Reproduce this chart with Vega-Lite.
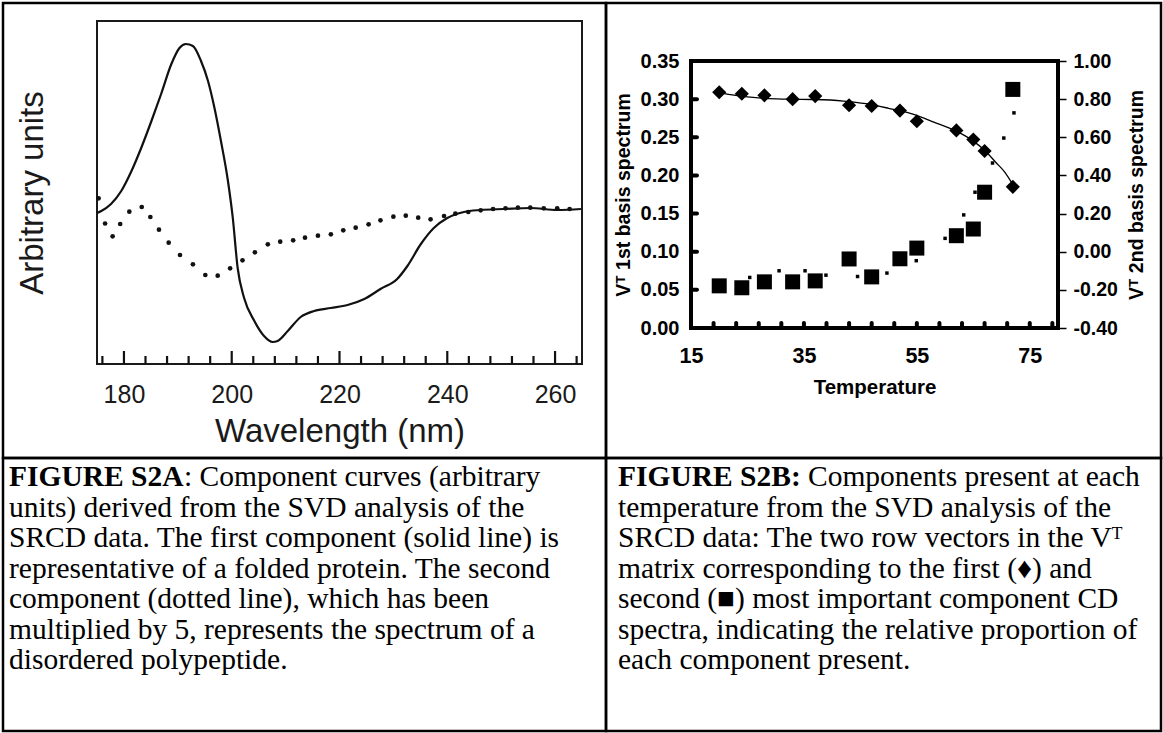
{
  "$schema": "https://vega.github.io/schema/vega-lite/v6.json",
  "padding": {"left": 1, "top": 1, "right": 1, "bottom": 1},
  "background": "white",
  "config": {"view": {"stroke": "black", "strokeWidth": 2.5}},
  "spacing": 0,
  "bounds": "flush",
  "columns": 2,
  "concat": [
        {
          "width": 603,
          "height": 455,
          "layer": [
            {
              "data": {"values": [{"k": 1}]},
              "mark": {"type": "rect", "fill": "transparent", "stroke": "#1a1a1a", "strokeWidth": 2},
              "encoding": {
                "x": {"datum": 175, "type": "quantitative", "scale": {"domain": [175, 265], "range": [94, 579], "nice": false, "zero": false}, "axis": null},
                "x2": {"datum": 265},
                "y": {"datum": -1.55, "type": "quantitative", "scale": {"domain": [-1.55, 1.88], "range": [361, 18], "nice": false, "zero": false}, "axis": null},
                "y2": {"datum": 1.88}
              }
            },
            {
              "data": {"values": [
                {"w":175.0,"v":-0.04},{"w":175.8,"v":-0.02},{"w":177.6,"v":0.05},{"w":179.5,"v":0.18},{"w":181.4,"v":0.38},{"w":183.2,"v":0.61},{"w":185.1,"v":0.88},{"w":186.9,"v":1.15},{"w":188.8,"v":1.45},{"w":190.3,"v":1.61},{"w":191.5,"v":1.65},{"w":192.8,"v":1.63},{"w":194.3,"v":1.48},{"w":195.6,"v":1.28},{"w":196.8,"v":1.01},{"w":198.0,"v":0.68},{"w":199.3,"v":0.28},{"w":200.2,"v":-0.09},{"w":201.1,"v":-0.59},{"w":202.3,"v":-0.89},{"w":204.2,"v":-1.12},{"w":206.0,"v":-1.27},{"w":207.6,"v":-1.33},{"w":208.5,"v":-1.32},{"w":210.4,"v":-1.22},{"w":212.8,"v":-1.08},{"w":215.3,"v":-1.02},{"w":218.4,"v":-0.99},{"w":221.5,"v":-0.96},{"w":224.6,"v":-0.90},{"w":227.6,"v":-0.80},{"w":230.7,"v":-0.70},{"w":232.6,"v":-0.57},{"w":235.1,"v":-0.35},{"w":237.5,"v":-0.19},{"w":240.0,"v":-0.09},{"w":243.1,"v":-0.03},{"w":246.2,"v":-0.01},{"w":250.5,"v":0.0},{"w":255.4,"v":0.01},{"w":260.4,"v":-0.01},{"w":264.8,"v":0.0}
              ]},
              "mark": {"type": "line", "color": "#111111", "strokeWidth": 2.2, "interpolate": "monotone"},
              "encoding": {
                "x": {"field": "w", "type": "quantitative", "scale": {"domain": [175, 265], "range": [94, 579], "nice": false, "zero": false}, "axis": null},
                "y": {"field": "v", "type": "quantitative", "scale": {"domain": [-1.55, 1.88], "range": [361, 18], "nice": false, "zero": false},
                  "axis": {"orient": "left", "offset": -94, "ticks": false, "labels": false, "domain": false, "grid": false, "title": "Arbitrary units", "titleFont": "Liberation Sans", "titleFontSize": 33, "titleFontWeight": "normal", "titleColor": "#1a1a1a", "titlePadding": 48}}
              }
            },
            {
              "data": {"values": [
                {"w":175.3,"v":0.107},{"w":176.5,"v":-0.145},{"w":177.9,"v":-0.273},{"w":179.3,"v":-0.15},{"w":181.0,"v":-0.027},{"w":183.3,"v":0.02},{"w":184.9,"v":-0.08},{"w":186.5,"v":-0.207},{"w":188.3,"v":-0.337},{"w":190.4,"v":-0.46},{"w":192.8,"v":-0.553},{"w":195.1,"v":-0.66},{"w":197.4,"v":-0.667},{"w":199.7,"v":-0.593},{"w":202.0,"v":-0.513},{"w":204.3,"v":-0.433},{"w":206.7,"v":-0.353},{"w":209.0,"v":-0.327},{"w":211.4,"v":-0.313},{"w":213.6,"v":-0.287},{"w":216.0,"v":-0.267},{"w":218.4,"v":-0.253},{"w":220.7,"v":-0.213},{"w":223.0,"v":-0.187},{"w":225.4,"v":-0.153},{"w":227.6,"v":-0.113},{"w":230.0,"v":-0.077},{"w":232.3,"v":-0.067},{"w":234.6,"v":-0.087},{"w":236.9,"v":-0.103},{"w":239.4,"v":-0.07},{"w":241.5,"v":-0.047},{"w":243.9,"v":-0.03},{"w":246.2,"v":-0.013},{"w":248.5,"v":0.0},{"w":250.8,"v":0.007},{"w":253.1,"v":0.013},{"w":255.4,"v":0.013},{"w":257.9,"v":0.007},{"w":260.4,"v":0.007},{"w":262.7,"v":0.0}
              ]},
              "mark": {"type": "circle", "color": "#111111", "opacity": 1, "size": 22},
              "encoding": {
                "x": {"field": "w", "type": "quantitative", "scale": {"domain": [175, 265], "range": [94, 579], "nice": false, "zero": false},
                  "axis": {"orient": "bottom", "offset": -94, "values": [180, 200, 220, 240, 260], "ticks": false, "tickSize": 0, "domain": false, "grid": false, "labelFont": "Liberation Sans", "labelFontSize": 25, "labelColor": "#1a1a1a", "labelPadding": 18, "labelFlush": false, "title": "Wavelength (nm)", "titleFont": "Liberation Sans", "titleFontSize": 33, "titleFontWeight": "normal", "titleColor": "#1a1a1a", "titlePadding": 8}},
                "y": {"field": "v", "type": "quantitative", "scale": {"domain": [-1.55, 1.88], "range": [361, 18], "nice": false, "zero": false}, "axis": null}
              }
            },
            {
              "data": {"values": [{"w":176},{"w":184},{"w":188},{"w":192},{"w":196},{"w":204},{"w":208},{"w":212},{"w":216},{"w":224},{"w":228},{"w":232},{"w":236},{"w":244},{"w":248},{"w":252},{"w":256},{"w":264}]},
              "mark": {"type": "tick", "orient": "vertical", "size": 8, "thickness": 2.2, "color": "#111111", "opacity": 1},
              "encoding": {
                "x": {"field": "w", "type": "quantitative", "scale": {"domain": [175, 265], "range": [94, 579], "nice": false, "zero": false}, "axis": null},
                "y": {"datum": -1.51, "type": "quantitative", "scale": {"domain": [-1.55, 1.88], "range": [361, 18], "nice": false, "zero": false}, "axis": null}
              }
            },
            {
              "data": {"values": [{"w":180},{"w":200},{"w":220},{"w":240},{"w":260}]},
              "mark": {"type": "tick", "orient": "vertical", "size": 13, "thickness": 2.2, "color": "#111111", "opacity": 1},
              "encoding": {
                "x": {"field": "w", "type": "quantitative", "scale": {"domain": [175, 265], "range": [94, 579], "nice": false, "zero": false}, "axis": null},
                "y": {"datum": -1.485, "type": "quantitative", "scale": {"domain": [-1.55, 1.88], "range": [361, 18], "nice": false, "zero": false}, "axis": null}
              }
            }
          ],
          "resolve": {"axis": {"x": "independent", "y": "independent"}}
        },
        {
          "width": 555,
          "height": 455,
          "layer": [
            {
              "data": {"values": [{"k": 1}]},
              "mark": {"type": "rect", "fill": "transparent", "stroke": "black", "strokeWidth": 4},
              "encoding": {
                "x": {"datum": 15, "type": "quantitative", "scale": {"domain": [15, 80], "range": [85, 452], "nice": false, "zero": false},
                  "axis": {"orient": "bottom", "offset": -130, "values": [15, 35, 55, 75], "ticks": false, "tickSize": 0, "domain": false, "grid": false, "labelFont": "Liberation Sans", "labelFontWeight": "bold", "labelFontSize": 21.5, "labelColor": "black", "labelPadding": 17, "labelFlush": false, "labelOverlap": false, "title": "Temperature", "titleFont": "Liberation Sans", "titleFontWeight": "bold", "titleFontSize": 20.5, "titleColor": "black", "titlePadding": 11}},
                "x2": {"datum": 80},
                "y": {"datum": 0, "type": "quantitative", "scale": {"domain": [0, 0.35], "range": [325, 58], "nice": false, "zero": false},
                  "axis": {"orient": "left", "offset": -85, "values": [0, 0.05, 0.1, 0.15, 0.2, 0.25, 0.3, 0.35], "format": ".2f", "ticks": false, "tickSize": 0, "domain": false, "grid": false, "labelFont": "Liberation Sans", "labelFontWeight": "bold", "labelFontSize": 20, "labelColor": "black", "labelPadding": 12, "labelFlush": false, "labelOverlap": false, "title": "Vᵀ 1st basis spectrum", "titleFont": "Liberation Sans", "titleFontWeight": "bold", "titleFontSize": 19.5, "titleColor": "black", "titlePadding": 7}},
                "y2": {"datum": 0.35}
              }
            },
            {
              "data": {"values": [
                {"T":20,"v":0.309},{"T":22,"v":0.306},{"T":25,"v":0.303},{"T":28,"v":0.301},{"T":32,"v":0.300},{"T":37,"v":0.2995},{"T":42,"v":0.2975},{"T":46,"v":0.294},{"T":50,"v":0.288},{"T":54,"v":0.281},{"T":58,"v":0.270},{"T":62,"v":0.258},{"T":65,"v":0.245},{"T":67,"v":0.233},{"T":69,"v":0.217},{"T":70.5,"v":0.205},{"T":72,"v":0.188}
              ]},
              "mark": {"type": "line", "color": "black", "strokeWidth": 1.3, "interpolate": "monotone"},
              "encoding": {
                "x": {"field": "T", "type": "quantitative", "scale": {"domain": [15, 80], "range": [85, 452], "nice": false, "zero": false}, "axis": null},
                "y": {"field": "v", "type": "quantitative", "scale": {"domain": [0, 0.35], "range": [325, 58], "nice": false, "zero": false}, "axis": null}
              }
            },
            {
              "data": {"values": [
                {"T":20,"v":0.309},{"T":24,"v":0.307},{"T":28,"v":0.305},{"T":33,"v":0.300},{"T":37,"v":0.304},{"T":43,"v":0.292},{"T":47,"v":0.291},{"T":52,"v":0.285},{"T":55,"v":0.271},{"T":62,"v":0.259},{"T":65,"v":0.247},{"T":67,"v":0.232},{"T":72,"v":0.185}
              ]},
              "mark": {"type": "point", "shape": "diamond", "filled": true, "color": "black", "opacity": 1, "size": 200},
              "encoding": {
                "x": {"field": "T", "type": "quantitative", "scale": {"domain": [15, 80], "range": [85, 452], "nice": false, "zero": false}, "axis": null},
                "y": {"field": "v", "type": "quantitative", "scale": {"domain": [0, 0.35], "range": [325, 58], "nice": false, "zero": false}, "axis": null}
              }
            },
            {
              "data": {"values": [{"T":19},{"T":23},{"T":27},{"T":31},{"T":35},{"T":39},{"T":43},{"T":47},{"T":51},{"T":55},{"T":59},{"T":63},{"T":67},{"T":71},{"T":75},{"T":79}]},
              "mark": {"type": "tick", "orient": "vertical", "size": 7, "thickness": 4, "cornerRadius": 2, "color": "black", "opacity": 1},
              "encoding": {
                "x": {"field": "T", "type": "quantitative", "scale": {"domain": [15, 80], "range": [85, 452], "nice": false, "zero": false}, "axis": null},
                "y": {"datum": 0.0046, "type": "quantitative", "scale": {"domain": [0, 0.35], "range": [325, 58], "nice": false, "zero": false}, "axis": null}
              }
            },
            {
              "data": {"values": [{"v":0.05},{"v":0.10},{"v":0.15},{"v":0.20},{"v":0.25},{"v":0.30}]},
              "mark": {"type": "tick", "orient": "horizontal", "size": 8, "thickness": 4, "cornerRadius": 2, "color": "black", "opacity": 1},
              "encoding": {
                "x": {"datum": 15.7, "type": "quantitative", "scale": {"domain": [15, 80], "range": [85, 452], "nice": false, "zero": false}, "axis": null},
                "y": {"field": "v", "type": "quantitative", "scale": {"domain": [0, 0.35], "range": [325, 58], "nice": false, "zero": false}, "axis": null}
              }
            },
            {
              "data": {"values": [
                {"T":25.4,"v":-0.135},{"T":30.6,"v":-0.10},{"T":35.2,"v":-0.10},{"T":38.9,"v":-0.123},{"T":44.5,"v":-0.13},{"T":49.7,"v":-0.112},{"T":54.9,"v":-0.047},{"T":60,"v":0.07},{"T":63.3,"v":0.193},{"T":65.3,"v":0.312},{"T":68.4,"v":0.465},{"T":70.4,"v":0.596},{"T":72.2,"v":0.728}
              ]},
              "mark": {"type": "point", "shape": "square", "filled": true, "color": "black", "opacity": 1, "size": 12},
              "encoding": {
                "x": {"field": "T", "type": "quantitative", "scale": {"domain": [15, 80], "range": [85, 452], "nice": false, "zero": false}, "axis": null},
                "y": {"field": "v", "type": "quantitative", "scale": {"domain": [-0.4, 1.0], "range": [325, 58], "nice": false, "zero": false}, "axis": null}
              }
            },
            {
              "data": {"values": [
                {"T":20,"v":-0.179},{"T":24,"v":-0.189},{"T":28,"v":-0.158},{"T":33,"v":-0.158},{"T":37,"v":-0.153},{"T":43,"v":-0.038},{"T":47,"v":-0.132},{"T":52,"v":-0.037},{"T":55,"v":0.019},{"T":62,"v":0.084},{"T":65,"v":0.119},{"T":67,"v":0.312},{"T":72,"v":0.851}
              ]},
              "mark": {"type": "point", "shape": "square", "filled": true, "color": "black", "opacity": 1, "size": 225},
              "encoding": {
                "x": {"field": "T", "type": "quantitative", "scale": {"domain": [15, 80], "range": [85, 452], "nice": false, "zero": false}, "axis": null},
                "y": {"field": "v", "type": "quantitative", "scale": {"domain": [-0.4, 1.0], "range": [325, 58], "nice": false, "zero": false},
                  "axis": {"orient": "right", "offset": -103, "values": [-0.4, -0.2, 0, 0.2, 0.4, 0.6, 0.8, 1.0], "format": ".2f", "labelExpr": "replace(datum.label, '−', '-')", "tickSize": 8, "tickWidth": 1.5, "tickColor": "black", "domain": false, "grid": false, "labelFont": "Liberation Sans", "labelFontWeight": "bold", "labelFontSize": 19.5, "labelColor": "black", "labelPadding": 7, "labelFlush": false, "labelOverlap": false, "title": "Vᵀ 2nd basis spectrum", "titleAngle": 270, "titleBaseline": "top", "titleFont": "Liberation Sans", "titleFontWeight": "bold", "titleFontSize": 19.5, "titleColor": "black", "titlePadding": 10}}
              }
            }
          ],
          "resolve": {"scale": {"y": "independent"}, "axis": {"x": "independent", "y": "independent"}}
        },
        {
          "width": 603,
          "height": 273,
          "data": {"values": [
            {"line": 1, "b": "FIGURE S2A", "t": ": Component curves (arbitrary"},
            {"line": 2, "t": "units) derived from the SVD analysis of the"},
            {"line": 3, "t": "SRCD data. The first component (solid line) is"},
            {"line": 4, "t": "representative of a folded protein. The second"},
            {"line": 5, "t": "component (dotted line), which has been"},
            {"line": 6, "t": "multiplied by 5, represents the spectrum of a"},
            {"line": 7, "t": "disordered polypeptide."}
          ]},
          "layer": [
            {
              "transform": [{"filter": "datum.b"}],
              "mark": {"type": "text", "align": "left", "baseline": "middle", "font": "Liberation Serif", "fontWeight": "bold", "fontSize": 29.5, "color": "black"},
              "encoding": {
                "x": {"value": 6},
                "y": {"field": "line", "type": "quantitative", "scale": {"domain": [1, 7], "range": [19, 202]}, "axis": null},
                "text": {"field": "b"}
              }
            },
            {
              "transform": [{"filter": "datum.b"}],
              "mark": {"type": "text", "align": "left", "baseline": "middle", "font": "Liberation Serif", "fontSize": 29.5, "color": "black", "dx": 175},
              "encoding": {
                "x": {"value": 6},
                "y": {"field": "line", "type": "quantitative", "scale": {"domain": [1, 7], "range": [19, 202]}, "axis": null},
                "text": {"field": "t"}
              }
            },
            {
              "transform": [{"filter": "!datum.b"}],
              "mark": {"type": "text", "align": "left", "baseline": "middle", "font": "Liberation Serif", "fontSize": 29.5, "color": "black"},
              "encoding": {
                "x": {"value": 6},
                "y": {"field": "line", "type": "quantitative", "scale": {"domain": [1, 7], "range": [19, 202]}, "axis": null},
                "text": {"field": "t"}
              }
            }
          ]
        },
        {
          "width": 555,
          "height": 273,
          "data": {"values": [
            {"line": 1, "b": "FIGURE S2B:", "t": "Components present at each"},
            {"line": 2, "t": "temperature from the SVD analysis of the"},
            {"line": 3, "t": "SRCD data: The two row vectors in the Vᵀ"},
            {"line": 4, "t": "matrix corresponding to the first (♦) and"},
            {"line": 5, "t": "second (■) most important component CD"},
            {"line": 6, "t": "spectra, indicating the relative proportion of"},
            {"line": 7, "t": "each component present."}
          ]},
          "layer": [
            {
              "transform": [{"filter": "datum.b"}],
              "mark": {"type": "text", "align": "left", "baseline": "middle", "font": "Liberation Serif", "fontWeight": "bold", "fontSize": 29.5, "color": "black"},
              "encoding": {
                "x": {"value": 12},
                "y": {"field": "line", "type": "quantitative", "scale": {"domain": [1, 7], "range": [19, 202]}, "axis": null},
                "text": {"field": "b"}
              }
            },
            {
              "transform": [{"filter": "datum.b"}],
              "mark": {"type": "text", "align": "left", "baseline": "middle", "font": "Liberation Serif", "fontSize": 29.5, "color": "black", "dx": 190},
              "encoding": {
                "x": {"value": 12},
                "y": {"field": "line", "type": "quantitative", "scale": {"domain": [1, 7], "range": [19, 202]}, "axis": null},
                "text": {"field": "t"}
              }
            },
            {
              "transform": [{"filter": "!datum.b"}],
              "mark": {"type": "text", "align": "left", "baseline": "middle", "font": "Liberation Serif", "fontSize": 29.5, "color": "black"},
              "encoding": {
                "x": {"value": 12},
                "y": {"field": "line", "type": "quantitative", "scale": {"domain": [1, 7], "range": [19, 202]}, "axis": null},
                "text": {"field": "t"}
              }
            }
          ]
        }
  ]
}
